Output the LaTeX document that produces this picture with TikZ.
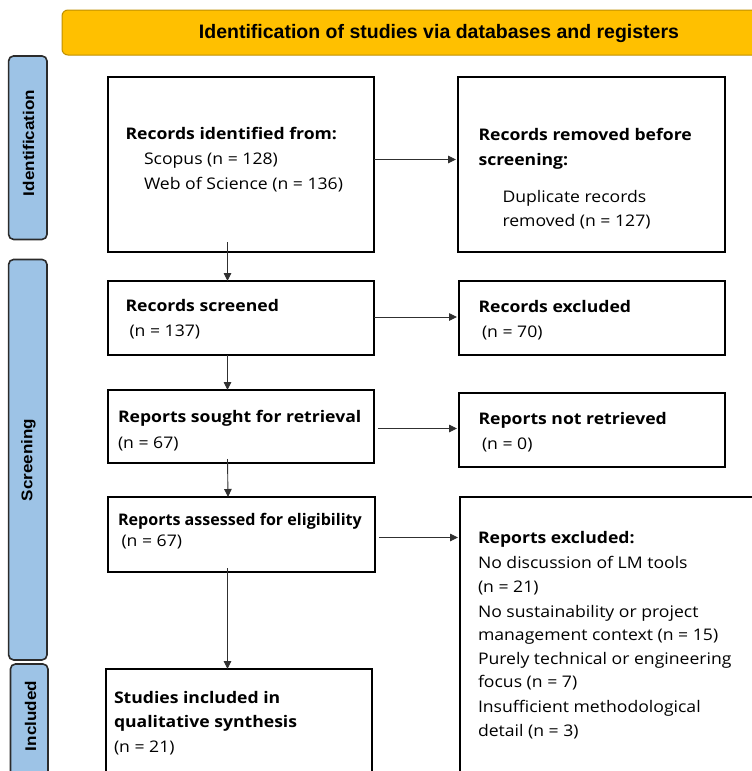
\documentclass[tikz,border=0pt]{standalone}
\usepackage{graphicx}
\usepackage{fontspec}
\setmainfont{Open Sans}[FakeStretch=1.1]
\newfontfamily\bannerfont{Liberation Sans}
\newfontfamily\sidefont{Liberation Sans}[FakeStretch=1.1]
\usetikzlibrary{arrows.meta}
\definecolor{bannerfill}{HTML}{FFC000}
\definecolor{banneredge}{HTML}{BF9000}
\definecolor{sidefill}{HTML}{9DC3E6}
\definecolor{sideedge}{HTML}{2B2B2B}
\definecolor{arrowgrey}{HTML}{303030}
\tikzset{
  box/.style={draw=black, line width=1.4pt, rectangle, inner sep=0pt, outer sep=0pt, fill=white},
  sidebar/.style={draw=sideedge, line width=1.6pt, fill=sidefill, rounded corners=5pt, inner sep=0pt, outer sep=0pt},
  sidelab/.style={rotate=90, inner sep=0pt, font=\sidefont\bfseries\fontsize{15.5}{18}\selectfont},
  lab/.style={anchor=base west, inner sep=0pt, outer sep=0pt, font=\fontsize{16}{19}\selectfont},
  blab/.style={lab, font=\bfseries\fontsize{16}{19}\selectfont},
  arr/.style={draw=arrowgrey, line width=0.9pt, -{Triangle[length=8pt,width=7.5pt]}},
}
\begin{document}
\begin{tikzpicture}[x=1pt,y=-1pt]
\useasboundingbox (0,0) rectangle (752,771);
\clip (0,0) rectangle (752,771);
\fill[white] (0,0) rectangle (752,771);

% banner
\node[draw=banneredge, line width=1pt, fill=bannerfill, rounded corners=6pt,
      minimum width=728pt, minimum height=45pt, inner sep=0pt] (banner) at (426,32.5) {};
\node[inner sep=0pt, font=\bannerfont\bfseries\fontsize{19.5}{22}\selectfont] (bannertxt) at (439,33.3) {Identification of studies via databases and registers};

% side bars
\node[sidebar, minimum width=38.4pt, minimum height=183.5pt] (s1) at (27.8,147.7) {};
\node[sidebar, minimum width=38.4pt, minimum height=400.5pt] (s2) at (27.8,459.7) {};
\node[sidebar, minimum width=37.5pt, minimum height=126pt] (s3) at (29.2,727) {};
\node[sidelab] (s1t) at (28.5,143) {Identification};
\node[sidelab] (s2t) at (28.5,460) {Screening};
\node[sidelab] (s3t) at (30.5,716) {Included};

% boxes
\node[box, minimum width=266pt, minimum height=175pt] (b1) at (241,164.5) {};
\node[box, minimum width=267pt, minimum height=175pt] (b2) at (591.5,164.5) {};
\node[box, minimum width=266pt, minimum height=74pt] (b3) at (241,318) {};
\node[box, minimum width=266pt, minimum height=74pt] (b4) at (592,318) {};
\node[box, minimum width=266pt, minimum height=73pt] (b5) at (241,426.5) {};
\node[box, minimum width=266pt, minimum height=74pt] (b6) at (592,430) {};
\node[box, minimum width=267pt, minimum height=75pt] (b7) at (241.5,534.5) {};
\node[box, minimum width=315pt, minimum height=293pt] (b8) at (617.5,643.5) {};
\node[box, minimum width=266pt, minimum height=121pt] (b9) at (239,729.5) {};

% texts
\node[blab] (t1a) at (125.5,139) {Records identified from:};
\node[lab]  (t1b) at (144,164) {Scopus (n = 128)};
\node[lab]  (t1c) at (144,189) {Web of Science (n = 136)};

\node[blab] (t2a) at (478.5,140) {Records removed before};
\node[blab] (t2b) at (478.5,165) {screening:};
\node[lab]  (t2c) at (502.5,202.5) {Duplicate records};
\node[lab]  (t2d) at (502.5,226) {removed (n = 127)};

\node[blab] (t3a) at (125.5,311) {Records screened};
\node[lab]  (t3b) at (129.5,336) {(n = 137)};

\node[blab] (t4a) at (478.5,312.5) {Records excluded};
\node[lab]  (t4b) at (482,337) {(n = 70)};

\node[blab] (t5a) at (118,422.5) {Reports sought for retrieval};
\node[lab]  (t5b) at (118,448.5) {(n = 67)};

\node[blab] (t6a) at (478.5,424) {Reports not retrieved};
\node[lab]  (t6b) at (482,449) {(n = 0)};

\node[blab] (t7a) at (118,525) {\scalebox{0.914}[1]{Reports assessed for eligibility}};
\node[lab]  (t7b) at (121.5,546) {(n = 67)};

\node[blab] (t8a) at (478,543) {Reports excluded:};
\node[lab]  (t8b) at (478,568) {No discussion of LM tools};
\node[lab]  (t8c) at (478,592) {(n = 21)};
\node[lab]  (t8d) at (478,617.5) {No sustainability or project};
\node[lab]  (t8e) at (478,640) {management context (n = 15)};
\node[lab]  (t8f) at (478,664) {Purely technical or engineering};
\node[lab]  (t8g) at (478,687.5) {focus (n = 7)};
\node[lab]  (t8h) at (478,712) {Insufficient methodological};
\node[lab]  (t8i) at (478,736.5) {detail (n = 3)};

\node[blab] (t9a) at (114,703) {Studies included in};
\node[blab] (t9b) at (114,727) {qualitative synthesis};
\node[lab]  (t9c) at (114,752) {(n = 21)};

% connectors
\draw[arr, shorten >=2pt] ([yshift=5pt]b1.east) -- ([yshift=5pt]b1.east -| b2.west);
\draw[arr, shorten >=2pt] ([yshift=1pt]b3.east) -- ([yshift=1pt]b3.east -| b4.west);
\draw[arr, shorten >=2pt, shorten <=4pt] ([yshift=-2pt]b5.east) -- ([yshift=-2pt]b5.east -| b6.west);
\draw[arr, shorten >=2pt, shorten <=4pt] ([yshift=-3pt]b7.east) -- ([yshift=-3pt]b7.east -| b8.west);

\draw[arr] ([xshift=-13.5pt,yshift=10pt]b1.south) -- ([xshift=-13.5pt]b3.north);
\draw[arr] ([xshift=-13.5pt]b3.south) -- ([xshift=-13.5pt]b5.north);
\draw[arr] ([xshift=-13.5pt,yshift=4pt]b5.south) -- ([xshift=-13.5pt]b7.north);
\draw[arr] ([xshift=-14pt,yshift=4pt]b7.south) -- ([xshift=-14pt]b7.south |- b9.north);
\end{tikzpicture}
\end{document}
